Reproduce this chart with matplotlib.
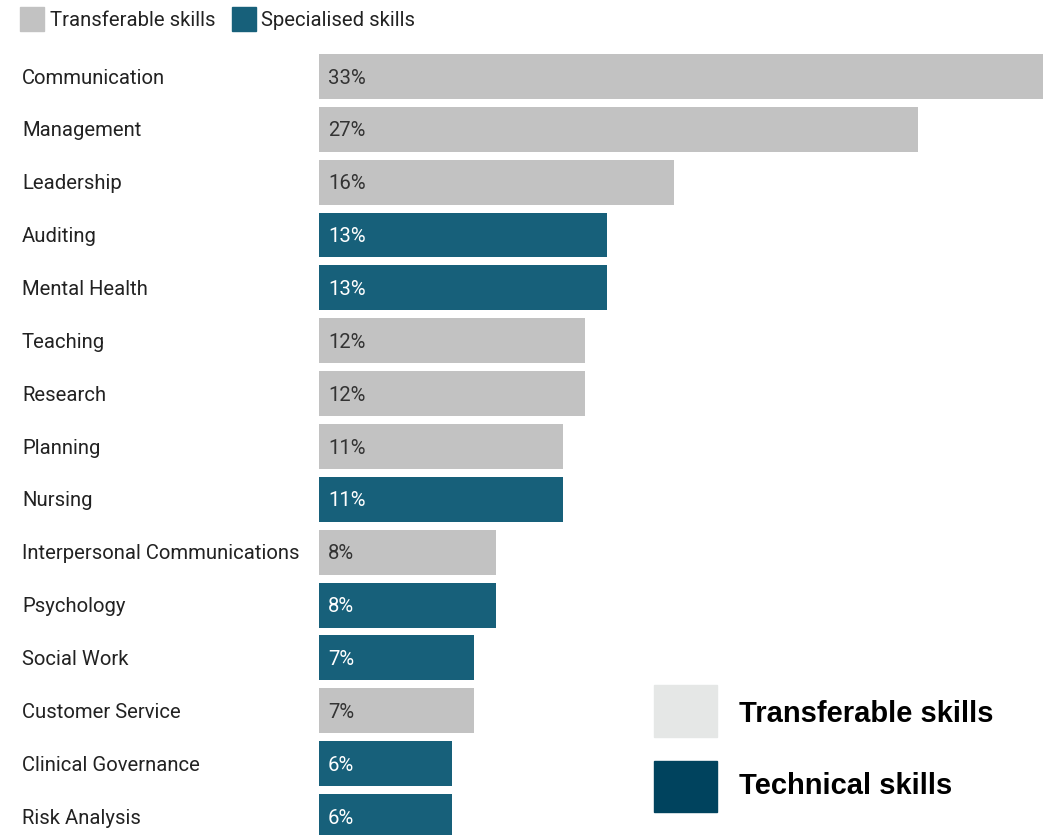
import matplotlib
matplotlib.use("Agg")
import matplotlib.pyplot as plt
import matplotlib.transforms as mtransforms
from matplotlib.patches import Rectangle

# Share of job adverts mentioning each skill
skills = [
    "Communication", "Management", "Leadership", "Auditing", "Mental Health",
    "Teaching", "Research", "Planning", "Nursing", "Interpersonal Communications",
    "Psychology", "Social Work", "Customer Service", "Clinical Governance",
    "Risk Analysis",
]
shares = [33, 27, 16, 13, 13, 12, 12, 11, 11, 8, 8, 7, 7, 6, 6]
skill_type = ["T", "T", "T", "S", "S", "T", "T", "T", "S", "T", "S", "S", "T", "S", "S"]

GREY = "#c2c2c2"
TEAL = "#17607a"
KEY_LIGHT = "#e5e7e6"
KEY_DARK = "#00435e"

W, H = 1043, 835
FS = 14.6
plt.rcParams["font.family"] = ["Roboto", "DejaVu Sans"]

fig = plt.figure(figsize=(W / 100, H / 100), dpi=100)
fig.patch.set_facecolor("white")


def fx(px):
    return px / W


def fy(py):
    return 1 - py / H


ax = fig.add_axes([fx(319), 0, 1 - fx(319), fy(50)])
ax.set_xlim(0, 32.66)
ax.set_ylim(14.35, -0.5)
ax.axis("off")

rows = list(range(len(skills)))
colors = [GREY if t == "T" else TEAL for t in skill_type]
ax.barh(rows, shares, height=0.85, color=colors, edgecolor="none", clip_on=True)

label_tf = mtransforms.blended_transform_factory(fig.transFigure, ax.transData)
for r, name, val, t in zip(rows, skills, shares, skill_type):
    ax.text(fx(22), r + 0.03, name, transform=label_tf, ha="left", va="center",
            fontsize=FS, color="#222222")
    ax.text(0.4, r + 0.03, f"{val}%", ha="left", va="center", fontsize=FS,
            color="#333333" if t == "T" else "white")

# Top key
fig.patches.append(Rectangle((fx(20), fy(31)), fx(24), 24 / H, color=GREY,
                             transform=fig.transFigure, figure=fig))
fig.text(fx(50), fy(20), "Transferable skills", ha="left", va="center",
         fontsize=FS, color="#222222")
fig.patches.append(Rectangle((fx(232), fy(31)), fx(24), 24 / H, color=TEAL,
                             transform=fig.transFigure, figure=fig))
fig.text(fx(261), fy(20), "Specialised skills", ha="left", va="center",
         fontsize=FS, color="#222222")

# Lower-right key
fig.patches.append(Rectangle((fx(654), fy(737)), fx(63), 52 / H, color=KEY_LIGHT,
                             transform=fig.transFigure, figure=fig))
fig.text(fx(739), fy(714), "Transferable skills", ha="left", va="center",
         fontsize=21, fontweight="bold", family=["Liberation Sans", "DejaVu Sans"],
         color="black")
fig.patches.append(Rectangle((fx(654), fy(812)), fx(63), 51 / H, color=KEY_DARK,
                             transform=fig.transFigure, figure=fig))
fig.text(fx(739), fy(786), "Technical skills", ha="left", va="center",
         fontsize=21, fontweight="bold", family=["Liberation Sans", "DejaVu Sans"],
         color="black")

fig.savefig("out.png", dpi=100)
